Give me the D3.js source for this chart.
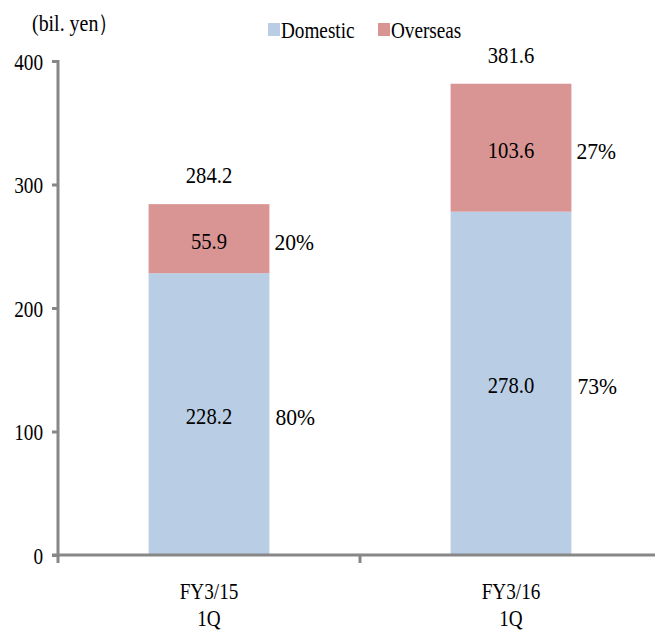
<!DOCTYPE html>
<html>
<head>
<meta charset="utf-8">
<script src="https://cdn.jsdelivr.net/npm/d3@7"></script>
<style>
  html, body { margin: 0; padding: 0; background: #fff; }
</style>
</head>
<body>
<svg id="chart" width="655" height="630"></svg>
<script>
// Sales split by region, billions of yen
const categories = ["FY3/15\n1Q", "FY3/16\n1Q"];
const domestic = [228.2, 278.0];
const overseas = [55.9, 103.6];
const totals = [284.2, 381.6];
const domesticShare = ["80%", "73%"];
const overseasShare = ["20%", "27%"];
const yTicks = [0, 100, 200, 300, 400];
const seriesNames = ["Domestic", "Overseas"];

const colors = { Domestic: "#B9CDE5", Overseas: "#D99594" };
const axisColor = "#878787";
const fontSize = 24;
const numSqueeze = 0.86;  // narrow serif look for figures
const wordSqueeze = 0.8;  // and a bit narrower for words

const svg = d3.select("#chart");
const plotLeft = 58, plotTop = 61, plotBottom = 555;
const bandW = 302;

const x = d3.scaleBand().domain(categories)
  .range([plotLeft, plotLeft + bandW * categories.length])
  .paddingInner(0).paddingOuter(0);
const barW = x.bandwidth() * 0.4;
const y = d3.scaleLinear().domain([0, 400]).range([plotBottom, plotTop]);

// narrow text helper
function label(g, tx, ty, str, anchor, sq) {
  return g.append("g").attr("transform", `translate(${tx},${ty}) scale(${sq || numSqueeze},1)`)
    .append("text")
    .attr("text-anchor", anchor || "middle")
    .attr("dominant-baseline", "central")
    .style("font-family", "'Liberation Serif'")
    .attr("font-size", fontSize)
    .attr("fill", "#000")
    .text(str);
}

// bars
const stack = categories.map((c, i) => ({ c, i, d: domestic[i], o: overseas[i] }));
const bars = svg.append("g");
stack.forEach(s => {
  const cx = x(s.c) + x.bandwidth() / 2;
  bars.append("rect")
    .attr("x", cx - barW / 2).attr("width", barW)
    .attr("y", y(s.d)).attr("height", y(0) - y(s.d))
    .attr("fill", colors.Domestic);
  bars.append("rect")
    .attr("x", cx - barW / 2).attr("width", barW)
    .attr("y", y(s.d + s.o)).attr("height", y(s.d) - y(s.d + s.o))
    .attr("fill", colors.Overseas);
});

// y axis
const yAxis = svg.append("g").attr("transform", `translate(${plotLeft},0)`)
  .call(d3.axisLeft(y).tickValues(yTicks).tickSize(6).tickFormat(() => ""));
yAxis.select(".domain").attr("stroke", axisColor).attr("stroke-width", 3)
  .attr("d", `M0,${plotTop - 1}V${plotBottom}`);
yAxis.selectAll(".tick line").attr("stroke", axisColor).attr("stroke-width", 3);
const tl = svg.append("g");
yTicks.forEach(v => label(tl, 43, y(v) + 1, String(v), "end", 0.8));

// x axis with separator ticks below
const xAxis = svg.append("g").attr("transform", `translate(0,${plotBottom})`);
xAxis.append("line").attr("x1", plotLeft - 6).attr("x2", 655).attr("y1", 0).attr("y2", 0)
  .attr("stroke", axisColor).attr("stroke-width", 3);
const seps = categories.map(c => x(c)).concat([x(categories[categories.length - 1]) + x.bandwidth()]);
seps.forEach(sx => {
  xAxis.append("line").attr("x1", sx).attr("x2", sx).attr("y1", 0).attr("y2", 8)
    .attr("stroke", axisColor).attr("stroke-width", 3);
});
categories.forEach(c => {
  const cx = x(c) + x.bandwidth() / 2;
  c.split("\n").forEach((ln, k) => label(svg, cx, 591 + k * 27, ln, "middle", wordSqueeze));
});

// value labels
const vl = svg.append("g");
stack.forEach(s => {
  const cx = x(s.c) + x.bandwidth() / 2;
  label(vl, cx, y(s.d / 2) + 2, s.d.toFixed(1));
  label(vl, cx, y(s.d + s.o / 2) + 2, s.o.toFixed(1));
  label(vl, cx, y(totals[s.i]) - 29, totals[s.i].toFixed(1));
  label(vl, cx + barW / 2 + 6, y(s.d / 2) + 3, domesticShare[s.i], "start", 0.9);
  label(vl, cx + barW / 2 + 5, y(s.d + s.o / 2) + 3, overseasShare[s.i], "start", 0.9);
});

// unit label
label(svg, 32, 23, "(bil. yen\uFF09", "start", 0.83);

// legend
const legendPos = [268, 378];
seriesNames.forEach((n, i) => {
  svg.append("rect").attr("x", legendPos[i]).attr("y", 23).attr("width", 12).attr("height", 13)
    .attr("fill", colors[n]);
  label(svg, legendPos[i] + 13, 30, n, "start", wordSqueeze);
});
</script>
</body>
</html>
